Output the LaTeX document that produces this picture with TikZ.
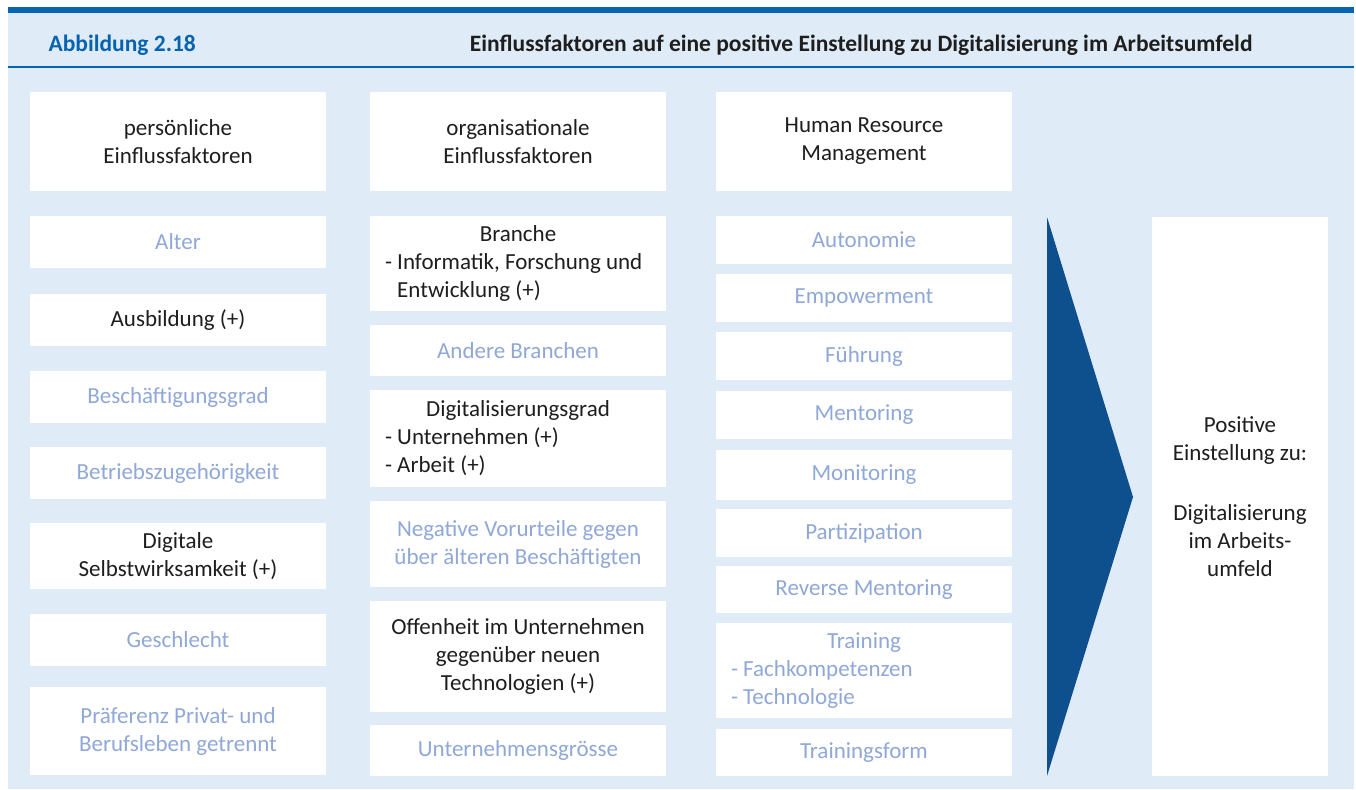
\documentclass[tikz,border=0pt]{standalone}
\usepackage{fontspec}
\setmainfont{Carlito}
\usepackage{tikz}
\usetikzlibrary{positioning}

\definecolor{panelblue}{HTML}{DFEBF7}
\definecolor{barblue}{HTML}{0563B0}
\definecolor{arrowblue}{HTML}{0E4F8E}
\definecolor{dimtext}{HTML}{8FA8D8}
\definecolor{darktext}{HTML}{1E1E1E}

\newcommand{\midrow}[1]{\makebox[266pt]{#1}}
\newcommand{\leftrow}[1]{\makebox[266pt][l]{#1}}

\begin{document}
\begin{tikzpicture}[
    x=1pt, y=-1pt,
    every node/.style={font=\fontsize{23}{28}\selectfont, text=darktext},
    factor/.style={fill=white, minimum width=296pt, inner sep=0pt, align=center},
    weak/.style={factor, text=dimtext},
    headline/.style={font=\fontsize{23.5}{28}\selectfont\bfseries}
  ]
  \useasboundingbox (0,0) rectangle (1356,789);
  % panel and header
  \fill[panelblue] (8,13) rectangle (1354,789);
  \fill[barblue] (8,7) rectangle (1354,13);
  \draw[barblue, line width=1.5pt] (8,67) -- (1354,67);
  \node[headline, anchor=west, text=barblue] (abb) at (45,45) {Abbildung 2.18};
  \node[headline, anchor=east] (titel) at (1256,45)
    {Einflussfaktoren auf eine positive Einstellung zu Digitalisierung im Arbeitsumfeld};

  % column heads
  \node[factor, minimum height=99pt] (persoenlich) at (178,141.5) {persönliche\\Einflussfaktoren};
  \node[factor, minimum height=99pt] (organisation) at (518,141.5) {organisationale\\Einflussfaktoren};
  \node[factor, minimum height=99pt] (hrm) at (864,141.5) {Human Resource\\Management};

  % personal factors
  \node[weak, minimum height=52pt] (alter) at (178,242) {Alter};
  \node[factor, minimum height=52pt] (ausbildung) at (178,320) {Ausbildung (+)};
  \node[weak, minimum height=52pt] (grad) at (178,397) {Beschäftigungsgrad};
  \node[weak, minimum height=52pt] (zugehoerig) at (178,473) {Betriebszugehörigkeit};
  \node[factor, minimum height=66pt] (selbstwirk) at (178,556) {Digitale\\Selbstwirksamkeit (+)};
  \node[weak, minimum height=52pt] (geschlecht) at (178,640) {Geschlecht};
  \node[weak, minimum height=88pt] (praeferenz) at (178,731) {Präferenz Privat- und\\Berufsleben getrennt};

  % organisational factors
  \node[factor, minimum height=95pt] (branche) at (518,263.5)
    {\midrow{Branche}\\\leftrow{- Informatik, Forschung und}\\\leftrow{\hphantom{- }Entwicklung (+)}};
  \node[weak, minimum height=51pt] (andere) at (518,350.5) {Andere Branchen};
  \node[factor, minimum height=97pt] (digigrad) at (518,438.5)
    {\midrow{Digitalisierungsgrad}\\\leftrow{- Unternehmen (+)}\\\leftrow{- Arbeit (+)}};
  \node[weak, minimum height=86pt] (vorurteil) at (518,544) {Negative Vorurteile gegen\\über älteren Beschäftigten};
  \node[factor, minimum height=111pt] (offenheit) at (518,656.5) {Offenheit im Unternehmen\\gegenüber neuen\\Technologien (+)};
  \node[weak, minimum height=51pt] (groesse) at (518,750.5) {Unternehmensgrösse};

  % HRM factors
  \node[weak, minimum height=48pt] (autonomie) at (864,240) {Autonomie};
  \node[weak, minimum height=48pt] (empower) at (864,298) {Empowerment};
  \node[weak, minimum height=48pt] (fuehrung) at (864,356) {Führung};
  \node[weak, minimum height=48pt] (mentoring) at (864,415) {Mentoring};
  \node[weak, minimum height=50pt] (monitoring) at (864,475) {Monitoring};
  \node[weak, minimum height=48pt] (partizip) at (864,533) {Partizipation};
  \node[weak, minimum height=47pt] (reverse) at (864,589.5) {Reverse Mentoring};
  \node[weak, minimum height=95pt] (training) at (864,670.5)
    {\midrow{Training}\\\leftrow{- Fachkompetenzen}\\\leftrow{- Technologie}};
  \node[weak, minimum height=47pt] (trainform) at (864,752.5) {Trainingsform};

  % arrow and outcome
  \fill[arrowblue] (1047,217) -- (1133,497) -- (1047,776) -- cycle;
  \node[factor, minimum width=176pt, minimum height=559pt] (einstellung) at (1240,496.5)
    {Positive\\Einstellung zu:\\[32pt]Digitalisierung\\im Arbeits-\\umfeld};
\end{tikzpicture}
\end{document}
